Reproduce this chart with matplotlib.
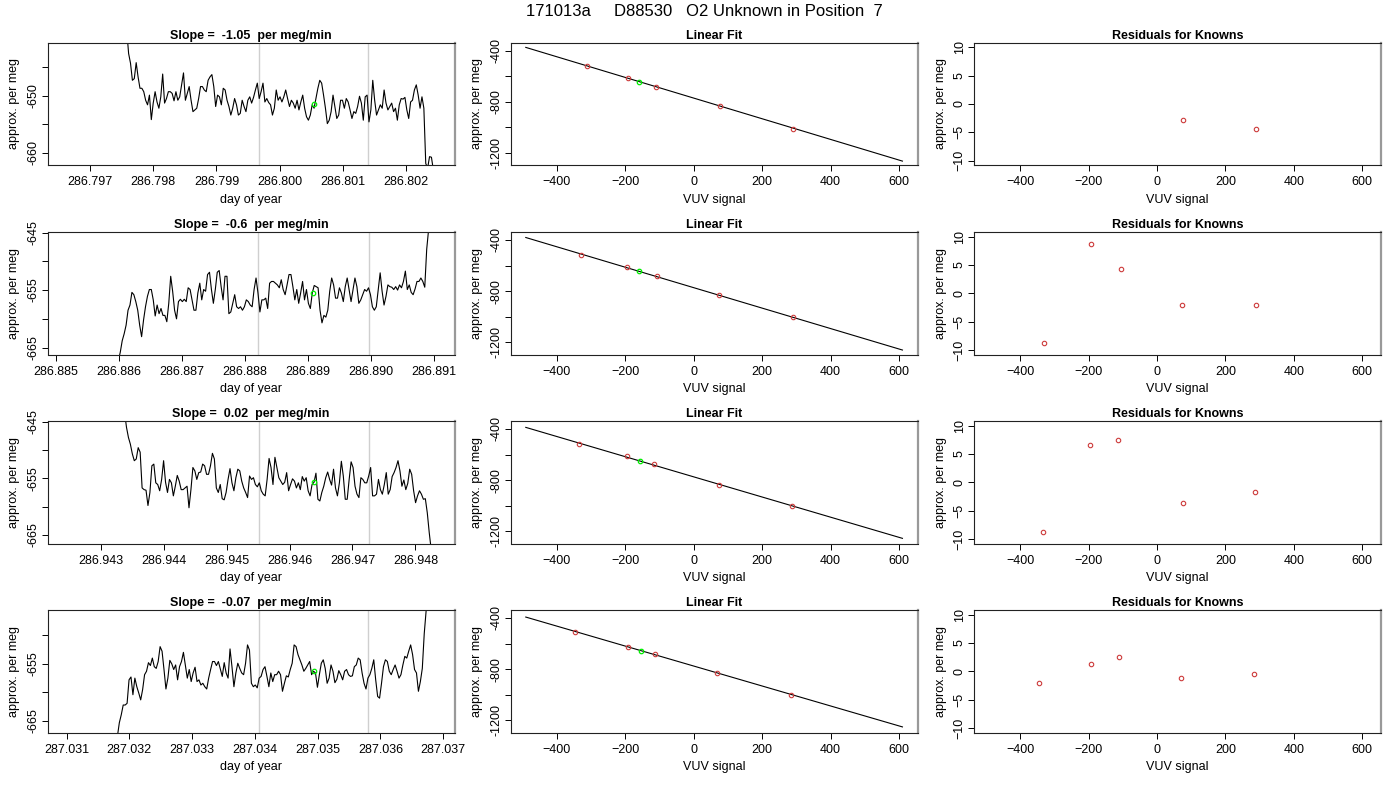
import numpy as np
import matplotlib.pyplot as plt

plt.rcParams['font.family'] = ['Liberation Sans', 'DejaVu Sans']
plt.rcParams['font.size'] = 9

# header bits
run_id = '171013a'
tank_id = 'D88530'
position = 7

# raw traces (approx. per meg), one per aliquot, regularly sampled between start and end (day of year)
t_start = [286.79758, 286.88599, 286.94338, 287.03181]
t_end = [286.80243, 286.89091, 286.94825, 287.03676]

trace1 = [-638.5, -642.6, -644.3, -647.3, -647.0, -644.2, -646.7, -648.7, -648.7, -649.3,
          -650.8, -651.6, -649.9, -654.2, -651.3, -649.3, -651.1, -652.2, -650.2, -646.2,
          -651.3, -650.5, -649.3, -649.3, -649.6, -650.9, -649.3, -650.8, -650.2, -648.1,
          -646.0, -650.8, -649.6, -648.4, -650.8, -652.8, -652.5, -652.2, -650.5, -648.4,
          -648.4, -649.0, -649.3, -647.3, -646.7, -646.3, -648.4, -651.9, -649.9, -650.2,
          -651.6, -648.7, -649.0, -650.8, -651.9, -653.4, -652.2, -650.5, -651.6, -653.4,
          -653.1, -650.8, -651.9, -652.8, -650.8, -650.2, -651.3, -650.3, -649.0, -647.8,
          -650.5, -649.3, -647.8, -651.1, -650.5, -651.2, -651.6, -653.4, -652.2, -649.0,
          -650.8, -650.2, -651.1, -650.2, -649.0, -650.5, -651.9, -650.8, -651.3, -652.2,
          -650.8, -652.5, -651.1, -649.9, -652.2, -653.7, -654.3, -653.4, -651.6, -652.2,
          -650.5, -648.7, -647.3, -647.8, -649.9, -652.2, -654.9, -654.3, -652.8, -649.9,
          -651.9, -654.0, -653.4, -650.8, -650.8, -652.2, -650.5, -651.1, -652.5, -654.0,
          -652.8, -653.1, -651.9, -650.1, -651.3, -654.3, -650.2, -649.9, -654.6, -652.5,
          -647.3, -650.8, -653.4, -652.5, -651.6, -652.2, -649.0, -651.3, -652.5, -651.9,
          -651.3, -652.8, -652.2, -654.3, -651.6, -650.5, -650.6, -650.3, -652.5, -654.0,
          -651.1, -650.8, -649.0, -648.1, -649.9, -652.2, -650.2, -652.2, -661.9, -662.7,
          -660.7, -660.8, -663.0]

trace2 = [-667.3, -665.8, -663.8, -662.6, -661.1, -658.5, -657.6, -655.4, -655.8, -657.0,
          -658.5, -661.1, -663.1, -660.2, -657.9, -656.1, -654.9, -654.9, -656.7, -659.5,
          -657.6, -659.1, -658.2, -659.4, -659.4, -660.5, -657.3, -652.6, -655.2, -658.5,
          -660.0, -657.0, -656.6, -657.0, -656.6, -657.0, -654.6, -654.9, -656.7, -658.5,
          -658.5, -655.5, -653.8, -656.7, -654.9, -655.2, -652.3, -651.9, -654.9, -657.3,
          -654.9, -651.9, -651.6, -654.4, -656.7, -652.6, -652.6, -659.1, -658.8, -657.3,
          -655.8, -657.9, -658.2, -657.9, -658.5, -657.9, -656.7, -657.0, -657.6, -657.9,
          -654.9, -652.9, -655.5, -658.8, -656.7, -656.7, -656.4, -658.2, -653.8, -653.5,
          -653.5, -653.8, -654.1, -654.6, -653.2, -654.9, -655.8, -654.1, -652.3, -652.3,
          -654.4, -656.7, -654.9, -657.3, -655.5, -653.5, -656.7, -654.9, -657.3, -658.2,
          -655.5, -654.2, -654.4, -654.6, -658.5, -660.7, -659.4, -659.7, -658.5, -655.2,
          -652.9, -654.1, -656.4, -656.4, -654.6, -655.5, -657.0, -654.4, -652.9, -654.9,
          -657.0, -654.9, -652.9, -654.4, -657.3, -656.7, -655.8, -654.9, -655.2, -654.6,
          -655.8, -657.9, -658.5, -657.9, -654.9, -652.0, -655.2, -657.6, -656.1, -654.1,
          -654.4, -654.5, -654.9, -654.4, -655.0, -654.1, -654.6, -653.5, -651.7, -654.9,
          -654.1, -655.4, -655.8, -654.8, -653.5, -653.5, -652.9, -653.5, -654.5, -647.9,
          -644.4]

trace3 = [-643.3, -646.0, -647.8, -649.0, -650.7, -651.9, -651.6, -649.6, -650.4, -656.7,
          -657.0, -657.1, -659.8, -657.5, -652.8, -652.5, -655.8, -656.1, -657.2, -655.2,
          -651.9, -655.7, -657.5, -655.2, -655.8, -658.1, -656.4, -654.5, -655.5, -657.0,
          -657.0, -656.7, -656.4, -660.2, -657.0, -653.1, -653.7, -655.2, -654.0, -653.9,
          -652.5, -652.8, -654.3, -654.3, -652.8, -650.6, -651.6, -656.7, -657.5, -656.1,
          -658.6, -658.8, -657.5, -655.2, -653.3, -655.8, -657.2, -654.9, -653.4, -653.7,
          -655.5, -656.7, -657.5, -658.4, -654.6, -655.2, -654.9, -656.1, -656.5, -655.8,
          -657.2, -657.8, -658.1, -655.2, -651.5, -653.1, -656.1, -651.3, -653.1, -654.9,
          -655.5, -656.1, -655.7, -654.0, -657.2, -656.1, -655.1, -655.5, -656.7, -655.8,
          -657.0, -654.7, -655.5, -654.9, -657.2, -658.1, -656.1, -655.7, -654.1, -658.7,
          -659.0, -657.5, -656.4, -654.9, -653.9, -655.2, -656.2, -653.4, -656.7, -658.1,
          -655.8, -652.0, -654.6, -658.7, -658.7, -655.2, -652.1, -653.1, -656.4, -657.8,
          -658.4, -654.9, -655.2, -655.8, -655.8, -654.6, -653.1, -658.1, -658.1, -657.8,
          -655.2, -657.0, -657.8, -656.1, -654.0, -657.8, -657.0, -654.7, -654.0, -653.1,
          -651.9, -653.7, -656.4, -655.3, -657.0, -655.9, -653.4, -654.3, -657.2, -659.3,
          -658.1, -657.2, -657.8, -658.7, -658.6, -661.1, -664.6, -667.6]

trace4 = [-667.7, -665.3, -663.9, -662.2, -662.2, -661.9, -657.8, -657.3, -660.4, -657.5,
          -659.0, -660.1, -661.3, -659.5, -656.9, -656.3, -654.8, -655.3, -654.0, -655.5,
          -655.8, -654.6, -652.0, -652.8, -656.0, -659.4, -657.5, -654.4, -655.0, -656.0,
          -655.2, -657.8, -655.5, -654.6, -653.0, -655.2, -657.5, -656.0, -658.1, -656.6,
          -655.6, -658.1, -657.8, -658.7, -658.4, -659.0, -659.4, -657.5, -656.0, -654.6,
          -654.6, -655.3, -654.6, -655.9, -657.2, -654.8, -656.6, -657.5, -652.4, -655.5,
          -659.0, -656.6, -654.9, -655.8, -656.6, -656.9, -654.9, -651.7, -652.6, -658.4,
          -659.0, -658.7, -659.2, -657.5, -657.2, -656.0, -655.5, -657.2, -659.0, -656.6,
          -658.1, -656.9, -656.9, -656.3, -656.9, -659.8, -658.4, -657.1, -657.3, -656.0,
          -654.9, -651.7, -652.0, -653.4, -654.3, -655.2, -656.3, -655.8, -655.2, -654.6,
          -656.9, -656.3, -656.6, -659.1, -656.9, -654.9, -654.3, -655.8, -658.4, -657.5,
          -655.2, -656.3, -658.3, -657.7, -656.2, -656.9, -657.8, -656.3, -656.0, -656.9,
          -657.2, -657.1, -655.5, -655.2, -654.0, -654.3, -656.6, -658.4, -659.4, -657.5,
          -656.9, -655.8, -654.3, -657.8, -660.7, -661.0, -658.4, -655.5, -654.3, -654.6,
          -656.3, -656.9, -656.0, -655.2, -656.3, -657.5, -656.9, -655.2, -653.7, -654.0,
          -652.8, -651.7, -653.4, -656.0, -656.6, -659.8, -658.1, -655.8, -649.7, -645.6,
          -644.4]

traces = [trace1, trace2, trace3, trace4]
slope_text = ['-1.05', '-0.6', '0.02', '-0.07']

# averaging window (grey lines) and unknown value (green point)
window_start = [286.79967, 286.88821, 286.94551, 287.03406]
window_end = [286.80140, 286.88996, 286.94726, 287.03581]
unk_time = [286.80054, 286.88908, 286.94639, 287.03494]
unk_meg = [-651.5, -655.5, -655.7, -656.3]
unk_vuv = [-160, -158, -155.5, -154.6]

# knowns used in the calibration
known_vuv = [[-312, -191, -111, 77, 291],
             [-330, -193, -107, 74, 289],
             [-334, -195, -115, 75, 288],
             [-347, -192, -112, 69, 285]]
known_meg = [[-518.5, -616.4, -681.1, -836.0, -1010.5],
             [-517.8, -610.0, -683.1, -834.2, -1006.3],
             [-519.7, -614.0, -676.3, -837.3, -1003.4],
             [-507.0, -624.7, -685.8, -831.0, -999.0]]
known_resid = [[np.nan, np.nan, np.nan, -2.9, -4.4],
               [-8.8, 8.6, 4.3, -2.0, -2.1],
               [-8.8, 6.5, 7.4, -3.7, -1.8],
               [-2.1, 1.2, 2.6, -1.2, -0.5]]
fit_intercept = [-770.8, -773.0, -774.4, -775.9]
fit_slope = [-0.8085, -0.800, -0.789, -0.781]

# axis ranges for the time panels
time_xlim = [(286.79633, 286.802765), (286.88487, 286.89132),
             (286.94216, 286.94862), (287.0307, 287.03718)]
time_xticks = [np.arange(286.797, 286.8025, 0.001), np.arange(286.885, 286.8915, 0.001),
               np.arange(286.943, 286.9485, 0.001), np.arange(287.031, 287.0375, 0.001)]
time_ylim = [(-662.2, -640.7), (-666.2, -644.9), (-666.5, -644.9), (-667.0, -645.6)]
time_yticks = [[-645, -650, -655, -660], [-645, -650, -655, -660, -665],
               [-645, -650, -655, -660, -665], [-650, -655, -660, -665]]
time_ylabels = [['', '-650', '', '-660'], ['-645', '', '-655', '', '-665'],
                ['-645', '', '-655', '', '-665'], ['', '-655', '', '-665']]

red = '#cd3b3b'
green = '#00ee00'


def style(ax):
    for s in ax.spines.values():
        s.set_linewidth(0.8)
        s.set_color('#222222')
    ax.spines['right'].set_color('#999999')
    ax.spines['right'].set_linewidth(1.6)
    ax.tick_params(direction='out', length=4, width=0.7, labelsize=9, pad=4)
    ax.tick_params(axis='y', labelrotation=90, pad=2)
    for lab in ax.get_yticklabels():
        lab.set_va('center')


fig = plt.figure(figsize=(14, 8), dpi=100)
W, H = 1400.0, 800.0
lefts = [47.7, 510.7, 974.0]
width = 406.8
tops = [42.7, 232.0, 421.0, 610.0]
height = 122.5

fig.text(0.503, 1 - 12 / H, '%s     %s   O2 Unknown in Position  %d' % (run_id, tank_id, position),
         ha='center', va='center', fontsize=12)

for i in range(4):
    bottom = 1 - (tops[i] + height) / H

    # raw trace
    ax = fig.add_axes([lefts[0] / W, bottom, width / W, height / H])
    t = np.linspace(t_start[i], t_end[i], len(traces[i]))
    ax.plot(t, traces[i], color='black', lw=0.8)
    ax.axvline(window_start[i], color='#cfcfcf', lw=1, zorder=0)
    ax.axvline(window_end[i], color='#cfcfcf', lw=1, zorder=0)
    ax.plot(unk_time[i], unk_meg[i], 'o', mfc='none', mec=green, ms=3.2, mew=0.9)
    ax.set_xlim(time_xlim[i])
    ax.set_ylim(time_ylim[i])
    ax.set_xticks(time_xticks[i])
    ax.set_xticklabels(['%.3f' % v for v in time_xticks[i]])
    ax.set_yticks(time_yticks[i])
    ax.set_yticklabels(time_ylabels[i])
    ax.set_title('Slope =  %s  per meg/min' % slope_text[i], fontweight='bold', fontsize=9, pad=3)
    ax.set_xlabel('day of year', labelpad=4)
    ax.set_ylabel('approx. per meg', labelpad=5)
    style(ax)

    # linear fit
    ax = fig.add_axes([lefts[1] / W, bottom, width / W, height / H])
    xs = np.array([-490, 610])
    ax.plot(xs, fit_intercept[i] + fit_slope[i] * xs, color='black', lw=0.8)
    ax.plot(known_vuv[i], known_meg[i], 'o', mfc='none', mec=red, ms=3.2, mew=0.8)
    ax.plot(unk_vuv[i], fit_intercept[i] + fit_slope[i] * unk_vuv[i], 'o', mfc='none',
            mec=green, ms=3.2, mew=0.9)
    ax.set_xlim(-534, 654)
    ax.set_ylim(-1296, -338)
    ax.set_xticks([-400, -200, 0, 200, 400, 600])
    ax.set_yticks([-400, -600, -800, -1000, -1200])
    ax.set_yticklabels(['-400', '', '-800', '', '-1200'])
    ax.set_title('Linear Fit', fontweight='bold', fontsize=9, pad=3)
    ax.set_xlabel('VUV signal', labelpad=4)
    ax.set_ylabel('approx. per meg', labelpad=5)
    style(ax)

    # residuals
    ax = fig.add_axes([lefts[2] / W, bottom, width / W, height / H])
    ax.plot(known_vuv[i], known_resid[i], 'o', mfc='none', mec=red, ms=3.2, mew=0.8)
    ax.set_xlim(-536, 655)
    ax.set_ylim(-10.8, 10.8)
    ax.set_xticks([-400, -200, 0, 200, 400, 600])
    ax.set_yticks([-10, -5, 0, 5, 10])
    ax.set_title('Residuals for Knowns', fontweight='bold', fontsize=9, pad=3)
    ax.set_xlabel('VUV signal', labelpad=4)
    ax.set_ylabel('approx. per meg', labelpad=5)
    style(ax)

fig.savefig('out.png', dpi=100)
